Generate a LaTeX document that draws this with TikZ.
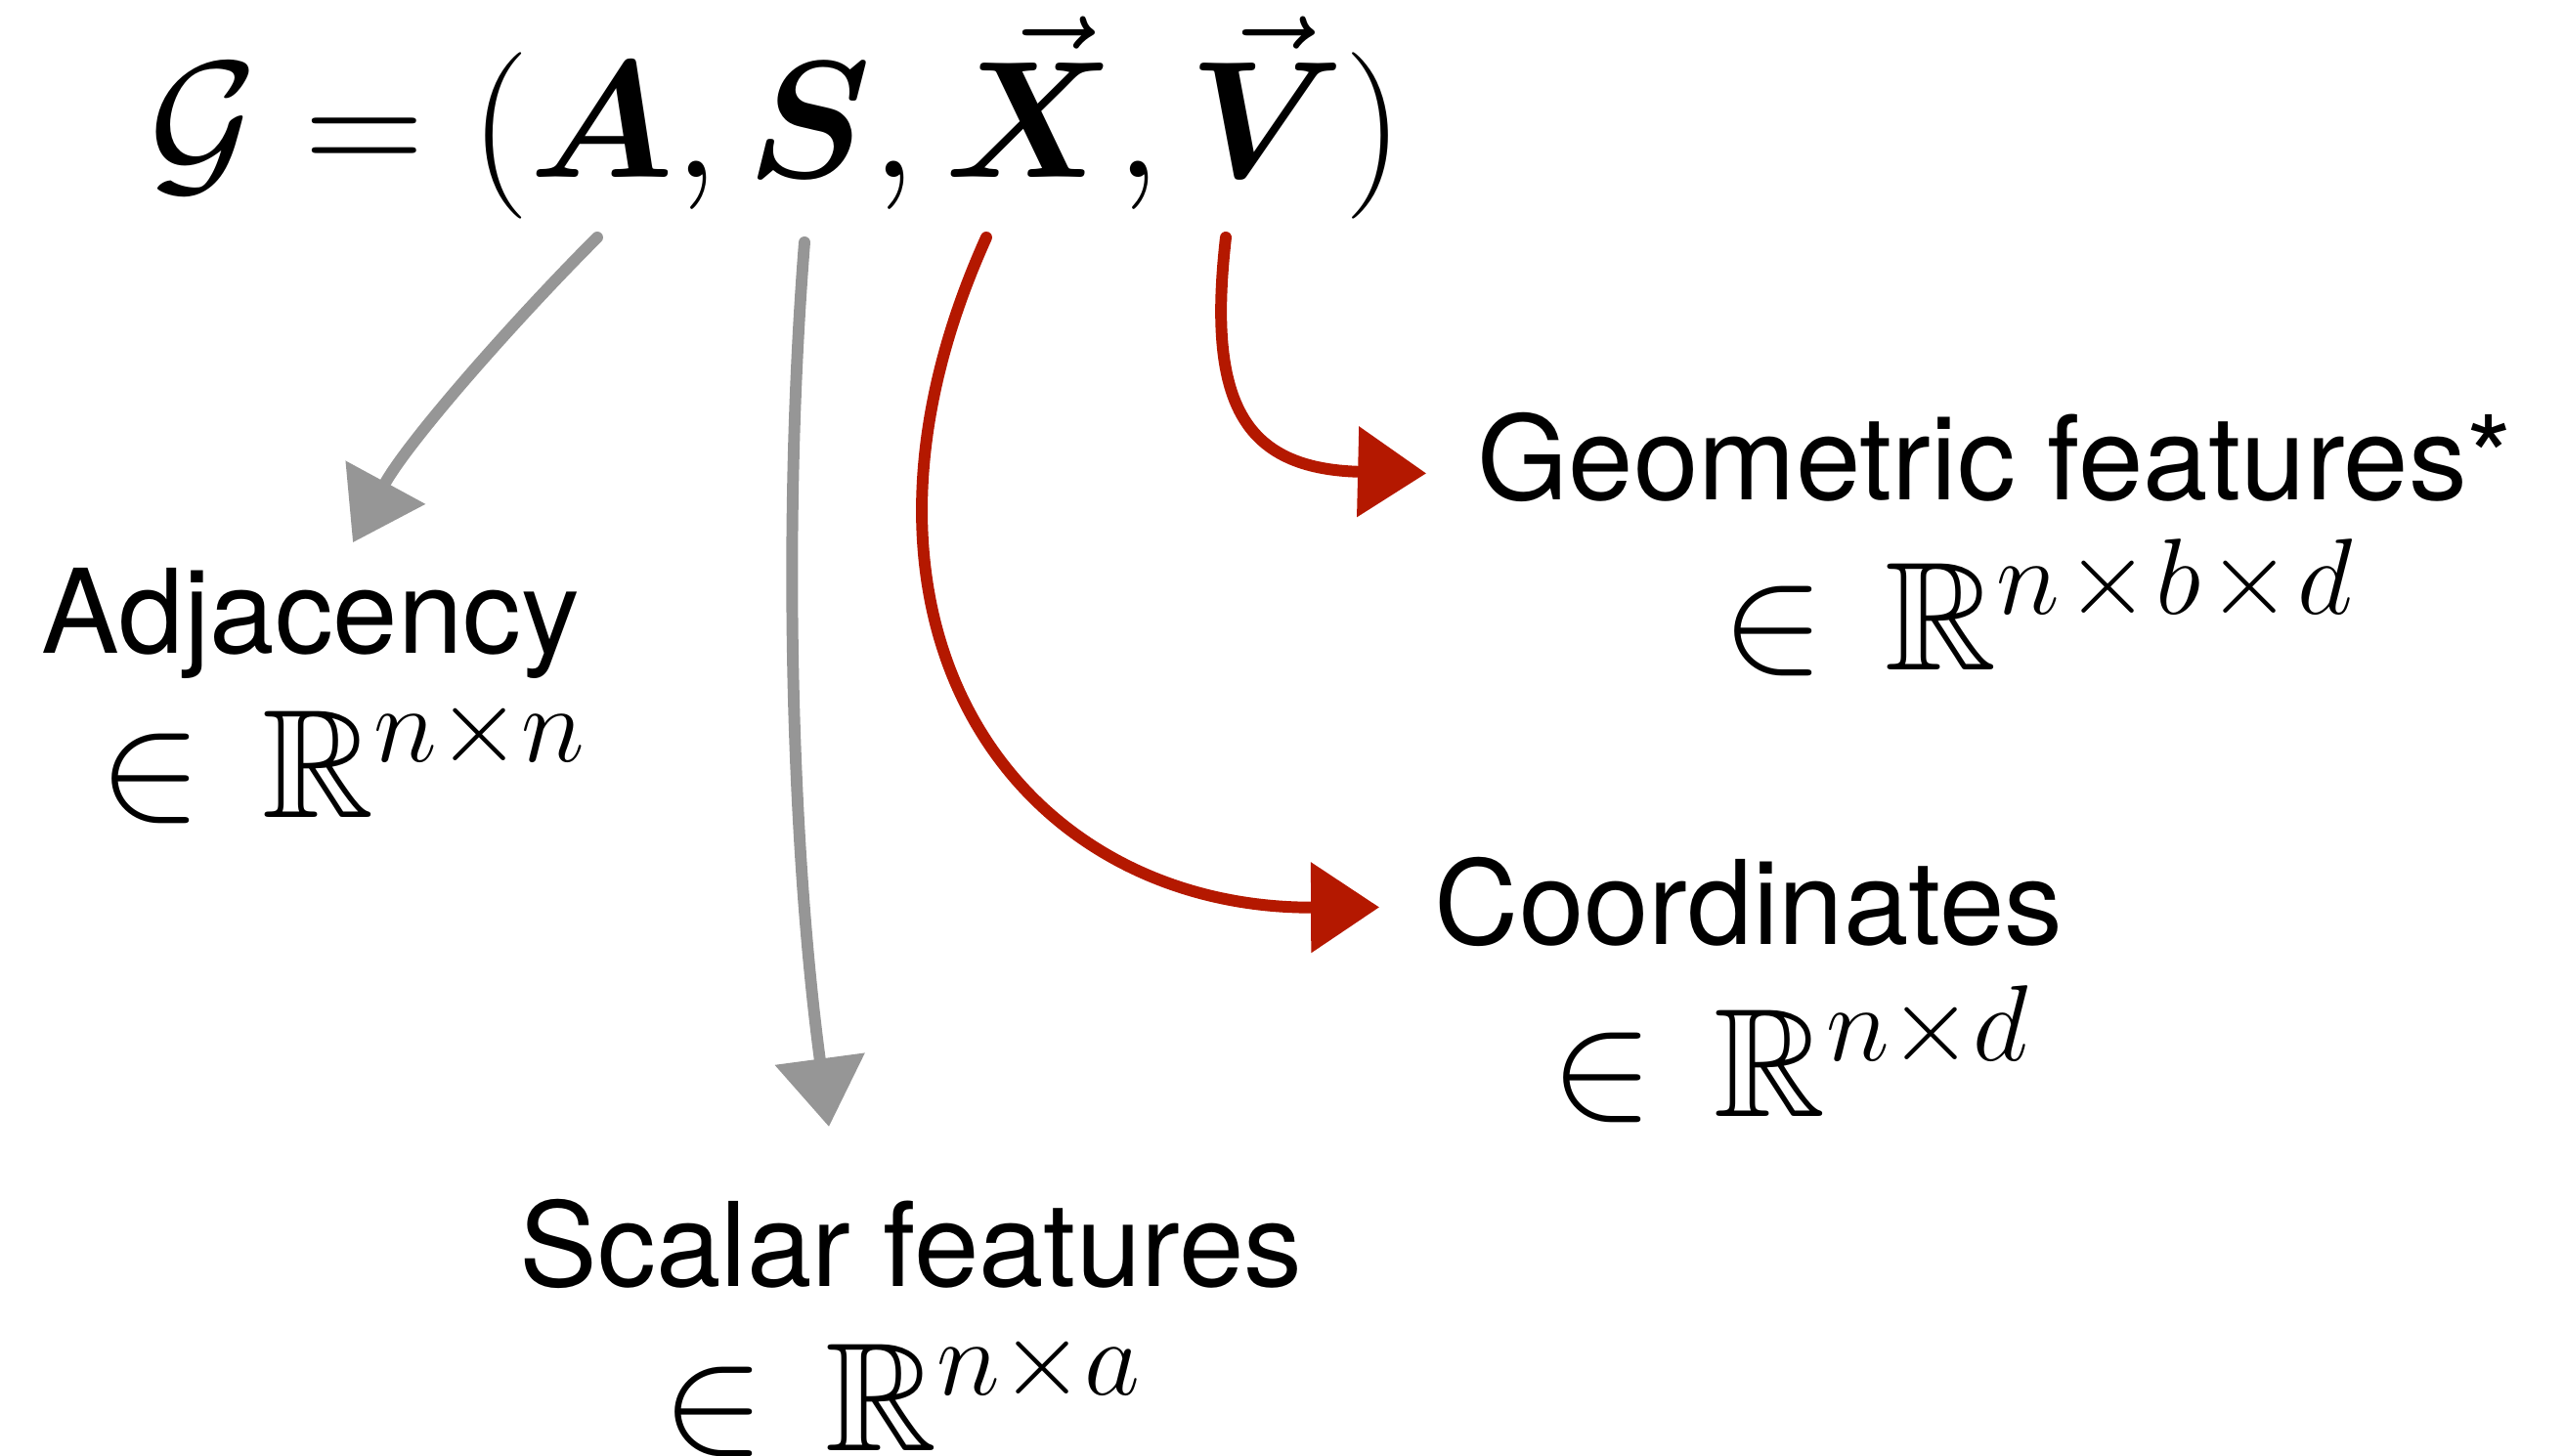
\RequirePackage{fix-cm}
\documentclass[tikz,border=0pt]{standalone}
\usepackage{amsmath,amssymb,bm}
\usepackage{fontspec}
\setsansfont{TeX Gyre Heros}
\usetikzlibrary{arrows.meta}

\definecolor{grigio}{RGB}{150,150,150}
\definecolor{rosso}{RGB}{180,24,0}

\begin{document}
\begin{tikzpicture}[font=\sffamily]

    % Stili per etichette e frecce
    \tikzset{
        etichetta/.style={font=\fontsize{34}{40}\selectfont\sffamily, inner sep=0pt, anchor=base},
        spazio/.style={font=\fontsize{45}{52}\selectfont, inner sep=0pt, anchor=base},
        freccia/.style={line width=3.4pt, line cap=round, -{Triangle[length=7mm,width=9mm]}}
    }

    % Cornice dell'immagine
    \useasboundingbox (0,0) rectangle (26.23,14.90);

    % Grafo in alto
    \node[font=\fontsize{48.5}{56}\selectfont, inner sep=0pt, anchor=base] (grafo) at (7.94,13.08)
        {$\mathcal{G} = (\bm{A}, \bm{S}, \vec{\bm{X}}, \vec{\bm{V}})$};

    % Punti di partenza sotto i simboli
    \coordinate (pA) at (6.11,12.47);
    \coordinate (pS) at (8.23,12.42);
    \coordinate (pX) at (10.09,12.47);
    \coordinate (pV) at (12.54,12.47);

    % Nomi delle componenti
    \node[etichetta] (adj) at (3.18,8.21) {Adjacency};
    \node[etichetta] (sca) at (9.32,1.73) {Scalar features};
    \node[etichetta] (crd) at (17.89,5.23) {Coordinates};
    \node[etichetta] (geo) at (20.41,9.78) {Geometric features*};

    % Spazi di appartenenza
    \node[spazio] (adjR) at (3.51,6.53) {$\in\mkern2mu\mathbb{R}^{n\times n}$};
    \node[spazio] (scaR) at (9.23,0.05) {$\in\mkern2mu\mathbb{R}^{n\times a}$};
    \node[spazio] (crdR) at (18.32,3.47) {$\in\mkern2mu\mathbb{R}^{n\times d}$};
    \node[spazio] (geoR) at (20.85,8.04) {$\in\mkern2mu\mathbb{R}^{n\mkern1mu\times\mkern1mu b\mkern1mu\times\mkern1mu d}$};

    % Frecce grigie
    \draw[freccia, grigio] (pA) .. controls (5.26,11.62) and (4.17,10.38) .. ([xshift=4.3mm,yshift=2.6mm]adj.north);
    \draw[freccia, grigio] (pS) .. controls (8.0,9.5) and (8.1,6.2) .. ([xshift=-8.4mm,yshift=7.4mm]sca.north);

    % Frecce rosse
    \draw[freccia, rosso] (pX) .. controls (8.3,8.5) and (10.4,5.6) .. ([xshift=-5.6mm,yshift=-0.5mm]crd.west);
    \draw[freccia, rosso] (pV) .. controls (12.35,10.8) and (12.7,10.1) .. ([xshift=-5.2mm,yshift=-1.6mm]geo.west);

\end{tikzpicture}
\end{document}
